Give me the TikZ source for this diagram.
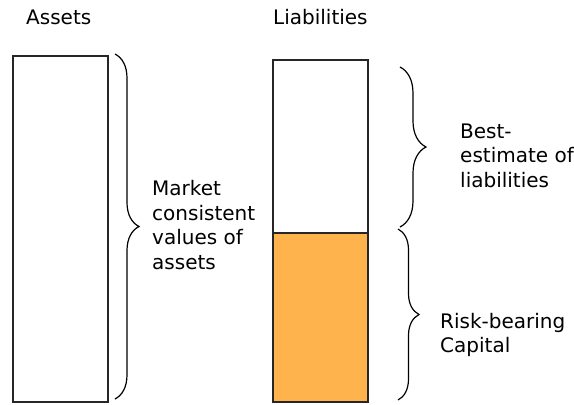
\documentclass[tikz,border=0pt]{standalone}
\usepackage{fontspec}
\setmainfont{DejaVu Sans}
\usetikzlibrary{positioning,decorations.pathreplacing}
\definecolor{capital orange}{RGB}{255,179,76}
\tikzset{
  sheet box/.style={draw=black!85, line width=1.4pt, inner sep=0pt, outer sep=0pt,
    minimum width=95pt, anchor=north west},
  side brace/.style={decorate, decoration={brace, amplitude=#1}, line width=1.2pt},
  side label/.style={align=left, inner sep=0pt, anchor=north west,
    font=\fontsize{20}{24.4}\selectfont},
  title label/.style={inner sep=0pt, anchor=base west, font=\fontsize{20}{24.4}\selectfont}
}

\begin{document}
\begin{tikzpicture}[x=1pt, y=-1pt]
  \useasboundingbox (0,0) rectangle (574,405);

  % the two columns of the balance sheet
  \node (assets) [sheet box, minimum height=346pt] at (13,56) {};
  \node (best) [sheet box, minimum height=173pt] at (273,60) {};
  \node (capital) [sheet box, fill=capital orange, minimum height=169pt] at (273,233) {};

  \node (assets title) [title label] at (26,24) {Assets};
  \node (liab title) [title label] at (273,24) {Liabilities};

  % braces and what they stand for
  \draw [side brace=24pt] ([xshift=7pt,yshift=2pt]assets.north east)
    -- ([xshift=7pt,yshift=3pt]assets.south east);
  \draw [side brace=26pt] ([xshift=32pt,yshift=-7pt]best.north east)
    -- ([xshift=32pt,yshift=6pt]best.south east);
  \draw [side brace=21pt] ([xshift=30pt,yshift=4pt]capital.north east)
    -- ([xshift=30pt,yshift=2pt]capital.south east);

  \node (market) [side label] at (152,180.5) {Market\\consistent\\values of\\assets};
  \node (estimate) [side label] at (460,123.5) {Best-\\estimate of\\liabilities};
  \node (risk) [side label] at (440,313) {Risk-bearing\\Capital};
\end{tikzpicture}
\end{document}
